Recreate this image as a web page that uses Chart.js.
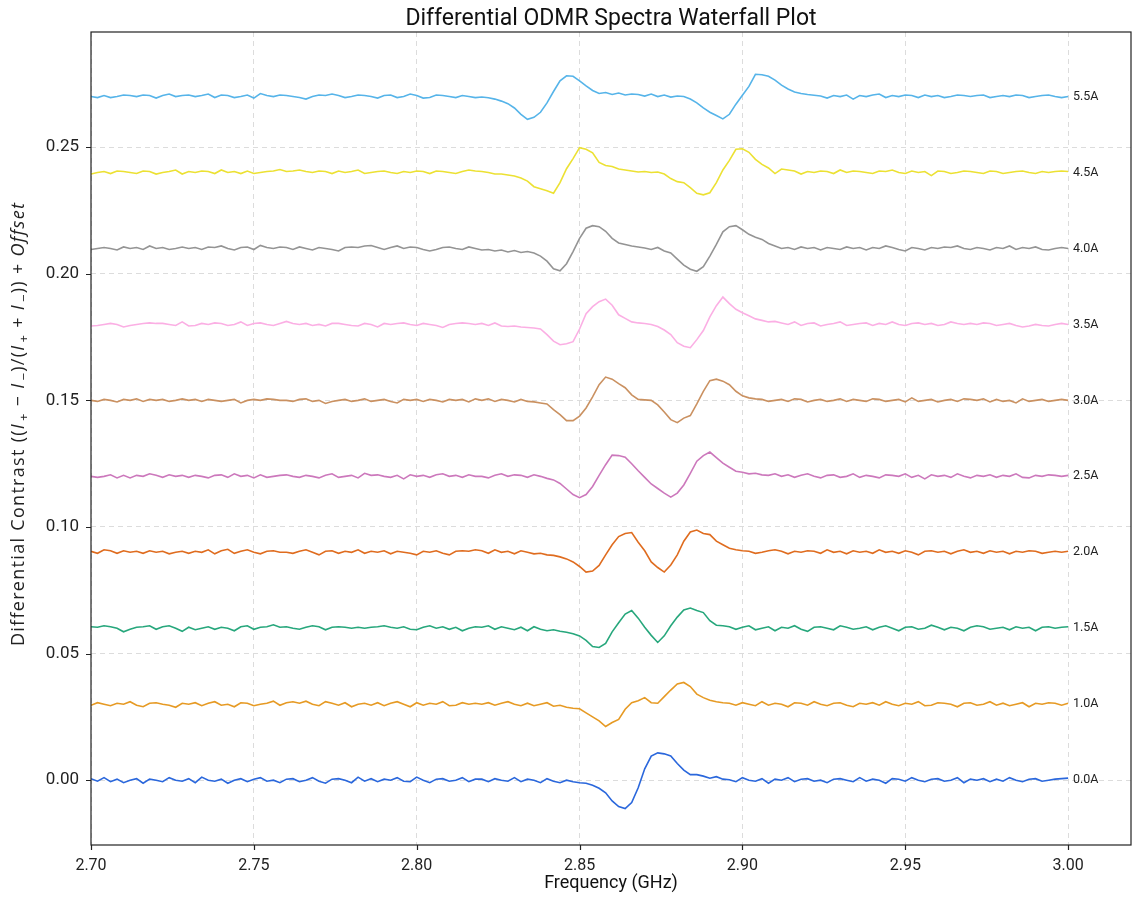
<!DOCTYPE html>
<html>
<head>
<meta charset="utf-8">
<script src="https://cdn.jsdelivr.net/npm/chart.js@4.4.0/dist/chart.umd.min.js"></script>
<style>
  html, body { margin: 0; padding: 0; background: #fff; }
  #wrap { width: 1132px; height: 905px; }
</style>
</head>
<body>
<div id="wrap"><canvas id="chart" width="1132" height="905"></canvas></div>
<script>
// frequency grid in MHz
const freqMHz = [
  2700,2702,2704,2706,2708,2710,2712,2714,2716,2718,
  2720,2722,2724,2726,2728,2730,2732,2734,2736,2738,
  2740,2742,2744,2746,2748,2750,2752,2754,2756,2758,
  2760,2762,2764,2766,2768,2770,2772,2774,2776,2778,
  2780,2782,2784,2786,2788,2790,2792,2794,2796,2798,
  2800,2802,2804,2806,2808,2810,2812,2814,2816,2818,
  2820,2822,2824,2826,2828,2830,2832,2834,2836,2838,
  2840,2842,2844,2846,2848,2850,2852,2854,2856,2858,
  2860,2862,2864,2866,2868,2870,2872,2874,2876,2878,
  2880,2882,2884,2886,2888,2890,2892,2894,2896,2898,
  2900,2902,2904,2906,2908,2910,2912,2914,2916,2918,
  2920,2922,2924,2926,2928,2930,2932,2934,2936,2938,
  2940,2942,2944,2946,2948,2950,2952,2954,2956,2958,
  2960,2962,2964,2966,2968,2970,2972,2974,2976,2978,
  2980,2982,2984,2986,2988,2990,2992,2994,2996,2998,
  3000
];

const currents = ["0.0A", "1.0A", "1.5A", "2.0A", "2.5A", "3.0A", "3.5A", "4.0A", "4.5A", "5.5A"];
const offsets = [0, 0.03, 0.06, 0.09, 0.12, 0.15, 0.18, 0.21, 0.24, 0.27];
const colors = ["#2a67dc", "#e69a24", "#27a77c", "#df6c1f", "#cc78bc", "#ca9161", "#fbafe4", "#949494", "#ece133", "#56b4e9"];

const xTicks = [2.70, 2.75, 2.80, 2.85, 2.90, 2.95, 3.00];
const yTicks = [0.00, 0.05, 0.10, 0.15, 0.20, 0.25];

// contrast minus offset, in units of 1e-4
const dev00 = [
  6,-4,10,-6,4,-10,0,6,-12,4,0,-6,10,0,-4,
  6,-10,12,0,-4,4,-12,0,6,-6,4,10,-4,0,-10,
  4,6,-6,0,10,-4,-12,4,6,0,-10,12,-4,6,-6,
  4,0,10,-4,-6,12,0,-10,4,6,-4,0,10,-6,4,
  4,-6,6,0,-4,10,-6,4,0,-10,6,-4,-10,0,-6,
  -10,-12,-20,-32,-50,-82,-104,-112,-88,-30,45,95,108,104,96,
  66,40,22,22,16,8,14,4,2,-6,10,0,-4,6,-12,
  4,0,10,-6,4,6,-4,0,-10,4,6,0,-6,10,-4,
  4,0,-12,6,4,-4,10,0,-6,4,6,-4,0,10,-10,
  4,0,6,-6,4,-4,10,0,-6,4,6,-4,0,4,6,
  8
];
const dev10 = [
  -4,6,0,-6,4,0,10,-4,-10,4,6,0,-4,-12,4,
  0,6,-6,4,10,-4,0,-10,6,4,-6,0,4,12,-4,
  6,10,4,12,0,-6,10,4,-4,6,-10,0,4,-4,6,
  -6,4,10,0,-10,6,-4,4,0,10,-6,-4,6,0,4,
  0,6,-4,4,10,0,-6,4,-6,0,6,-8,-4,-12,-16,
  -18,-34,-50,-66,-88,-72,-60,-20,6,14,26,6,4,30,56,
  80,86,70,40,26,16,10,6,4,-4,6,0,-6,10,-4,
  4,0,-10,6,4,-4,10,0,-6,4,6,-4,-10,4,0,
  6,-4,10,0,-6,4,0,10,-6,-4,6,4,0,-10,4,
  6,-4,0,10,-4,4,-6,0,6,-10,4,0,6,4,-4,
  4
];
const dev15 = [
  6,4,10,6,0,-14,-4,4,6,10,-4,6,10,0,-12,
  4,-6,0,6,-4,4,0,-10,6,10,-4,4,6,14,4,
  6,0,-4,4,10,6,-6,4,6,4,0,4,0,4,6,
  10,4,0,6,-4,-6,4,10,0,6,-4,4,-10,0,6,
  4,10,-4,6,0,-6,4,-10,6,-4,-10,-6,-12,-16,-22,
  -30,-48,-72,-76,-60,-14,22,56,70,40,4,-28,-56,-30,10,
  44,72,80,70,62,30,12,10,6,-4,4,10,-6,0,6,
  -10,4,0,10,-4,-12,4,6,0,-6,10,4,-4,0,6,
  -6,4,10,0,-10,4,6,-4,0,12,4,-6,4,0,-10,
  4,10,6,-4,0,4,-6,6,0,4,-10,4,6,0,4,
  6
];
const dev20 = [
  4,-4,10,6,-4,6,0,4,-4,6,0,4,-6,0,4,
  -4,4,0,10,-6,6,12,-4,4,10,0,-6,4,6,0,
  0,-4,4,10,0,-10,4,6,-4,4,0,10,-4,4,0,
  6,-6,4,0,-4,-10,4,0,6,-4,-10,4,6,4,10,
  6,-4,10,0,4,-6,6,0,-6,-4,-10,-12,-18,-26,-38,
  -56,-78,-74,-52,-10,30,62,74,78,40,6,-38,-60,-78,-50,
  -10,44,80,88,74,70,44,30,16,10,6,4,-4,0,6,
  10,4,-6,4,0,6,4,-4,10,0,4,-6,6,0,4,
  -4,10,0,4,-4,6,0,-10,4,6,0,4,-6,4,10,
  0,4,-4,6,0,4,-6,4,0,6,4,-4,0,4,0,
  4
];
const dev25 = [
  0,-4,0,6,-6,4,-6,4,0,10,4,-4,6,0,4,
  -4,4,0,-6,4,6,-4,10,0,4,-6,6,-4,0,4,
  6,0,-4,4,0,-6,4,10,-4,0,4,-6,12,4,6,
  0,-4,4,-10,6,0,4,-4,6,10,0,4,-4,6,0,
  0,-6,4,10,0,6,4,-4,6,0,-8,-14,-28,-50,-72,
  -84,-72,-40,4,46,84,82,76,50,22,-4,-30,-48,-66,-82,
  -66,-34,12,60,82,96,74,52,36,20,16,10,12,6,4,
  10,0,6,-4,4,10,0,-6,4,6,-4,0,10,-4,4,
  0,-6,6,4,0,10,-4,4,-10,6,0,4,-4,10,0,
  -6,4,0,6,-4,4,0,10,-4,-6,4,0,6,4,0,
  4
];
const dev30 = [
  0,-4,4,0,-6,4,0,6,-4,4,0,4,-4,0,6,
  0,4,-4,4,0,-4,0,4,-10,0,4,0,6,4,0,
  0,-4,4,6,-4,0,-12,-4,0,4,-4,0,6,-4,0,
  4,-4,-10,4,0,4,-4,4,0,-6,4,0,4,-6,6,
  0,6,-4,4,0,-6,4,-4,-6,-10,-14,-36,-56,-80,-80,
  -62,-30,14,62,92,84,66,50,22,4,2,0,-18,-46,-76,
  -88,-70,-60,-14,36,78,84,76,62,36,18,10,6,4,-4,
  0,4,-4,6,4,-6,0,4,-4,0,6,-4,4,0,-4,
  6,4,-4,0,4,-6,10,-4,0,4,-6,0,4,-4,6,
  4,0,6,-6,4,-4,0,-10,6,-4,0,4,-4,0,4,
  0
];
const dev35 = [
  -6,-4,0,4,0,-10,-4,0,4,6,4,4,0,-4,10,
  -6,-4,4,0,6,4,-4,0,10,-4,4,6,0,-4,4,
  12,4,0,4,-4,0,-6,4,4,0,-4,-6,4,0,-10,
  4,0,4,6,0,-4,4,0,-4,-12,0,4,6,4,0,
  4,-4,6,-6,-8,-6,-10,-12,-14,-18,-40,-66,-80,-76,-68,
  -18,42,70,90,100,76,38,24,10,6,4,0,-8,-22,-40,
  -72,-86,-92,-60,-24,30,74,108,82,60,46,34,22,16,10,
  12,6,0,10,-4,4,6,-6,0,4,10,-4,0,4,6,
  -4,4,0,10,0,-4,4,6,0,4,-4,0,10,4,0,
  4,0,6,4,-4,0,4,-4,-10,-6,0,-4,-6,0,4,
  0
];
const dev40 = [
  -4,0,4,0,-6,6,0,4,-4,10,0,4,-4,0,6,
  0,4,-4,6,4,10,0,-6,4,6,-4,12,4,0,6,
  4,-4,6,0,-6,4,0,-4,-10,4,6,4,10,12,4,
  -4,4,10,0,6,4,-4,-10,-4,4,6,0,-4,6,0,
  -6,-4,-10,-6,-14,-8,-16,-12,-18,-30,-50,-80,-88,-60,-12,
  40,80,90,86,68,40,22,16,10,6,2,-4,4,-10,-18,
  -42,-66,-82,-90,-72,-30,16,66,86,90,74,56,44,36,20,
  10,0,4,-4,6,0,4,-6,4,0,-4,6,0,4,-6,
  4,0,10,4,-4,-10,4,0,-6,4,0,6,4,10,0,
  -4,4,0,-6,4,0,10,-4,4,0,6,-4,-6,0,4,
  0
];
const dev45 = [
  -6,0,4,-4,6,4,0,-4,6,4,-6,0,4,10,-6,
  4,0,6,4,-4,10,0,4,-4,6,-4,0,4,6,12,
  4,6,10,4,0,6,4,-4,6,0,4,10,-4,0,4,
  6,0,-4,4,0,6,4,-4,6,4,0,-4,4,10,6,
  4,0,-6,-6,-10,-14,-22,-34,-56,-64,-72,-82,-40,15,55,
  98,92,78,40,28,24,14,10,6,2,4,0,2,-6,-24,
  -36,-40,-60,-82,-88,-80,-40,10,48,92,94,80,52,32,18,
  -4,14,10,6,-6,4,0,6,4,-4,10,0,6,4,0,
  -4,6,4,10,0,-4,6,0,4,-12,6,4,-4,0,6,
  4,0,-4,6,4,-4,0,4,6,0,-4,4,0,4,6,
  4
];
const dev55 = [
  0,-4,4,-4,0,6,4,0,6,4,-6,4,10,0,4,
  6,0,4,10,-4,6,4,-4,0,6,-6,12,4,0,6,
  4,0,-4,-10,0,6,4,10,4,-4,0,6,4,0,-6,
  4,6,-4,0,10,4,-6,-4,6,4,0,-4,4,0,-4,
  -2,-5,-10,-18,-28,-45,-70,-90,-82,-62,-25,20,62,82,80,
  62,42,24,12,16,8,14,6,10,8,2,10,0,6,-2,
  2,0,-10,-25,-45,-62,-75,-88,-70,-30,5,40,88,86,80,
  65,45,30,18,12,8,5,2,-6,4,0,6,-10,4,0,
  6,10,-4,4,0,6,4,-4,6,0,4,-4,0,6,4,
  0,4,6,-4,0,4,0,6,4,-4,0,4,6,0,-4,
  0
];
const devs = [dev00, dev10, dev15, dev20, dev25, dev30, dev35, dev40, dev45, dev55];

const labelFreq = 3.0015;

const datasets = devs.map((d, k) => ({
  label: currents[k],
  data: freqMHz.map((m, i) => ({ x: m / 1000, y: offsets[k] + d[i] / 10000 })),
  borderColor: colors[k],
  borderWidth: 1.6,
  pointRadius: 0,
  tension: 0,
  fill: false
}));

function drawYLabel(ctx, cx, cy) {
  const segs = [
    ["Differential Contrast ((", "n"], ["I", "i"], ["+", "s"], [" \u2212 ", "n"], ["I", "i"], ["\u2212", "s"],
    [")/(", "n"], ["I", "i"], ["+", "s"], [" + ", "n"], ["I", "i"], ["\u2212", "s"],
    [")) + ", "n"], ["Offset", "i"]
  ];
  const fonts = {
    n: '18px "Open Sans"',
    i: 'italic 18px "Open Sans"',
    s: '13px "Open Sans"'
  };
  ctx.save();
  ctx.letterSpacing = "1.3px";
  let total = 0;
  segs.forEach(s => { ctx.font = fonts[s[1]]; total += ctx.measureText(s[0]).width + (s[1] === "s" ? 2 : 0); });
  ctx.translate(cx, cy);
  ctx.rotate(-Math.PI / 2);
  ctx.textAlign = "left";
  ctx.textBaseline = "alphabetic";
  let pos = -total / 2;
  segs.forEach(s => {
    ctx.font = fonts[s[1]];
    const sub = s[1] === "s";
    if (sub) pos += 2;
    ctx.fillText(s[0], pos, sub ? 4 : 0);
    pos += ctx.measureText(s[0]).width;
  });
  ctx.restore();
}

const decor = {
  id: "decor",
  beforeDraw(chart) {
    const ctx = chart.ctx;
    ctx.save();
    ctx.fillStyle = "#fff";
    ctx.fillRect(0, 0, chart.width, chart.height);
    ctx.restore();
  },
  afterDraw(chart) {
    const { ctx, chartArea: a, scales: { x, y } } = chart;
    ctx.save();
    // current labels at the end of each trace
    ctx.font = "12.5px Roboto";
    ctx.fillStyle = "#222";
    ctx.textAlign = "left";
    ctx.textBaseline = "middle";
    currents.forEach((c, k) => ctx.fillText(c, x.getPixelForValue(labelFreq), y.getPixelForValue(offsets[k])));

    // frame and tick marks
    ctx.strokeStyle = "#222";
    ctx.lineWidth = 1.2;
    ctx.strokeRect(a.left, a.top, a.right - a.left, a.bottom - a.top);
    ctx.beginPath();
    xTicks.forEach(v => {
      const px = Math.round(x.getPixelForValue(v)) + 0.5;
      ctx.moveTo(px, a.bottom);
      ctx.lineTo(px, a.bottom + 5);
    });
    yTicks.forEach(v => {
      const py = Math.round(y.getPixelForValue(v)) + 0.5;
      ctx.moveTo(a.left, py);
      ctx.lineTo(a.left - 5, py);
    });
    ctx.stroke();

    // title and axis titles
    ctx.fillStyle = "#111";
    ctx.textAlign = "center";
    ctx.textBaseline = "alphabetic";
    ctx.font = "23px Roboto";
    ctx.fillText("Differential ODMR Spectra Waterfall Plot", (a.left + a.right) / 2, 25);
    ctx.font = "18px Roboto";
    ctx.fillText("Frequency (GHz)", (a.left + a.right) / 2, 888);
    ctx.fillStyle = "#222";
    drawYLabel(ctx, 24, 424);
    ctx.restore();
  }
};

new Chart(document.getElementById("chart"), {
  type: "line",
  data: { datasets },
  options: {
    responsive: false,
    animation: false,
    devicePixelRatio: 1,
    layout: { padding: { top: 32, right: 1, left: 0, bottom: 0 } },
    plugins: {
      legend: { display: false },
      title: { display: false },
      tooltip: { enabled: false }
    },
    scales: {
      x: {
        type: "linear",
        min: 2.7,
        max: 3.0193,
        afterFit: s => { s.height = 60; },
        afterBuildTicks: s => { s.ticks = xTicks.map(v => ({ value: v })); },
        ticks: {
          padding: 11,
          color: "#222",
          maxRotation: 0,
          autoSkip: false,
          font: { family: "Roboto", size: 16 },
          callback: v => Number(v).toFixed(2)
        },
        grid: { color: "#dcdcdc", lineWidth: 1, drawTicks: false },
        border: { display: false, dash: [5, 4] }
      },
      y: {
        min: -0.0256,
        max: 0.2955,
        afterFit: s => { s.width = 91; },
        afterBuildTicks: s => { s.ticks = yTicks.map(v => ({ value: v })); },
        ticks: {
          padding: 12,
          color: "#222",
          autoSkip: false,
          font: { family: "Roboto", size: 17 },
          callback: v => Number(v).toFixed(2)
        },
        grid: { color: "#dcdcdc", lineWidth: 1, drawTicks: false },
        border: { display: false, dash: [5, 4] }
      }
    }
  },
  plugins: [decor]
});
</script>
</body>
</html>
